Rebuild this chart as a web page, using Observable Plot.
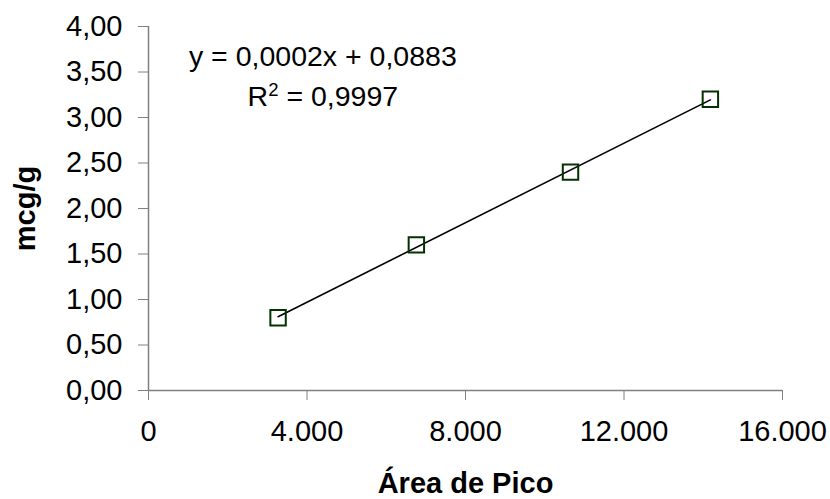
<!DOCTYPE html>
<html>
<head>
<meta charset="utf-8">
<script src="https://cdn.jsdelivr.net/npm/d3@7"></script>
<script src="https://cdn.jsdelivr.net/npm/@observablehq/plot@0.6"></script>
<style>
  html, body { margin: 0; padding: 0; background: #fff; }
</style>
</head>
<body>
<div id="chart"></div>
<script>
const areaPico = [3270, 6760, 10650, 14180];
const mcgPorG = [0.80, 1.60, 2.40, 3.20];
const xTicks = [0, 4000, 8000, 12000, 16000];
const yTicks = [0, 0.5, 1, 1.5, 2, 2.5, 3, 3.5, 4];
const xLabel = "Área de Pico";
const yLabel = "mcg/g";
const equationText = "y = 0,0002x + 0,0883";
const r2Text = "R² = 0,9997";

const data = areaPico.map((a, i) => ({x: a, y: mcgPorG[i]}));
const loc = d3.formatLocale({decimal: ",", thousands: ".", grouping: [3], currency: ["", ""]});
const fx = loc.format(",d");
const fy = loc.format(",.2f");
const FS = 29;

const chart = Plot.plot({
  width: 830,
  height: 499,
  marginLeft: 148,
  marginRight: 48,
  marginTop: 26,
  marginBottom: 109,
  style: {fontFamily: "'Liberation Sans', Arial, sans-serif", fontSize: FS + "px", color: "black", background: "white"},
  x: {domain: [0, 16000]},
  y: {domain: [0, 4]},
  marks: [
    Plot.axisY({ticks: yTicks, tickFormat: fy, tickSize: 10, tickPadding: 16, stroke: "#808080", fill: "black", label: null, fontSize: FS}),
    Plot.axisX({ticks: xTicks, tickFormat: fx, tickSize: 10, tickPadding: 20, stroke: "#808080", fill: "black", label: null, fontSize: FS}),
    Plot.ruleX([0], {stroke: "#808080", strokeWidth: 1.5}),
    Plot.ruleY([0], {stroke: "#808080", strokeWidth: 1.5}),
    Plot.linearRegressionY(data, {x: "x", y: "y", stroke: "black", strokeWidth: 1.6, ci: 0}),
    Plot.dot(data, {x: "x", y: "y", symbol: "square", r: 8.7, stroke: "#003300", strokeWidth: 2, fill: "none"}),
    Plot.text([equationText], {x: 4400, y: 3.67, text: d => d, fontSize: 28.5, fill: "black"}),
    Plot.text([r2Text], {x: 4400, y: 3.23, text: d => d, fontSize: 28.5, fill: "black"}),
    Plot.text([xLabel], {frameAnchor: "bottom", dy: 93, lineAnchor: "middle", text: d => d, fontSize: FS, fontWeight: "bold", fill: "black"}),
    Plot.text([yLabel], {frameAnchor: "left", dx: -123, rotate: -90, textAnchor: "middle", lineAnchor: "middle", text: d => d, fontSize: FS, fontWeight: "bold", fill: "black"})
  ]
});
document.getElementById("chart").appendChild(chart);

// Render the superscript of R² as a raised, smaller "2"
chart.querySelectorAll("text").forEach(t => {
  if (t.textContent === r2Text) {
    const rest = r2Text.slice(2);
    t.textContent = "";
    const ns = "http://www.w3.org/2000/svg";
    const a = document.createElementNS(ns, "tspan"); a.textContent = "R";
    const b = document.createElementNS(ns, "tspan"); b.textContent = "2";
    b.setAttribute("dy", "-0.55em"); b.setAttribute("font-size", "0.65em");
    const c = document.createElementNS(ns, "tspan"); c.textContent = rest;
    c.setAttribute("dy", "0.36em");
    t.appendChild(a); t.appendChild(b); t.appendChild(c);
  }
});
</script>
</body>
</html>
